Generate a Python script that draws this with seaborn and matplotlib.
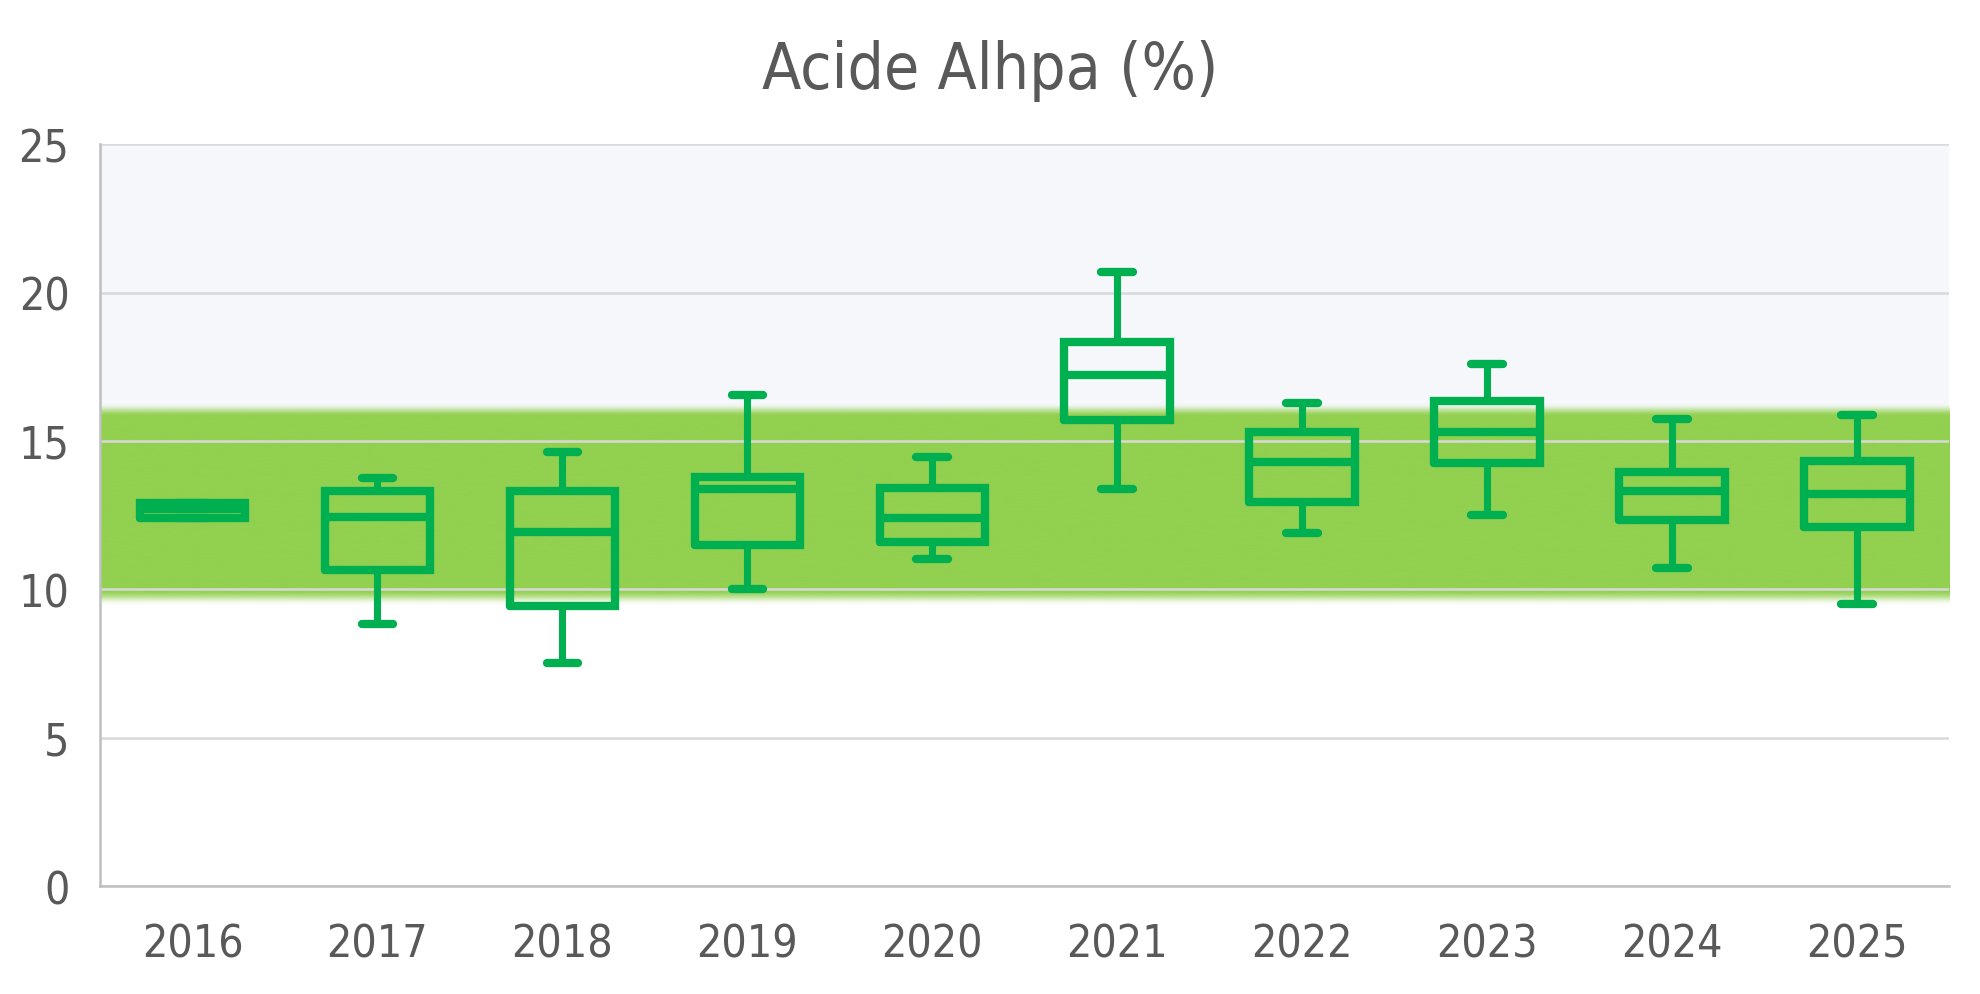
import matplotlib
matplotlib.use("Agg")
import matplotlib.pyplot as plt
from matplotlib.colors import to_rgb
import numpy as np
import pandas as pd
import seaborn as sns

# values (min, q1, median, q3, max per year)
YEARS = ["2016", "2017", "2018", "2019", "2020",
         "2021", "2022", "2023", "2024", "2025"]
LOWS = [12.40, 8.83, 7.52, 10.00, 11.01, 13.38, 11.89, 12.50, 10.72, 9.51]
Q1S = [12.40, 10.66, 9.45, 11.50, 11.59, 15.72, 12.93, 14.27, 12.32, 12.10]
MEDIANS = [12.70, 12.44, 11.93, 13.38, 12.40, 17.21, 14.30, 15.31, 13.32, 13.22]
Q3S = [12.92, 13.31, 13.31, 13.78, 13.43, 18.32, 15.30, 16.36, 13.95, 14.33]
HIGHS = [12.92, 13.75, 14.63, 16.55, 14.45, 20.71, 16.27, 17.59, 15.75, 15.87]

TITLE = "Acide Alhpa (%)"
Y_TICKS = [0, 5, 10, 15, 20, 25]
TARGET_LOW, TARGET_HIGH = 10, 16

GREEN = "#00B050"
BAND_GREEN = "#92D050"
TOP_SHADE = "#F5F7FA"
TEXT = "#595959"
GRID = "#D9D9D9"
AXIS = "#BFBFBF"

rows = []
for year, lo, q1, med, q3, hi in zip(YEARS, LOWS, Q1S, MEDIANS, Q3S, HIGHS):
    for v in (lo, q1, med, q3, hi):
        rows.append({"year": year, "alpha": v})
df = pd.DataFrame(rows)

sns.set_theme(style="white")
plt.rcParams["font.family"] = ["DejaVu Sans"]
plt.rcParams["font.stretch"] = "condensed"

fig = plt.figure(figsize=(19.81, 9.95), dpi=100)
ax = fig.add_axes([0.0505, 0.1085, 0.9335, 0.7455])

LW = 6.0
sns.boxplot(data=df, x="year", y="alpha", order=YEARS, ax=ax,
            fill=False, color=GREEN, width=0.57, linewidth=LW,
            whis=(0, 100), showfliers=False, capwidths=0.17,
            boxprops={"linewidth": LW, "solid_joinstyle": "miter"},
            medianprops={"linewidth": LW},
            whiskerprops={"linewidth": LW * 0.85},
            capprops={"linewidth": LW, "solid_capstyle": "round"},
            zorder=3)

# shaded region above the target band
ax.axhspan(TARGET_HIGH, 25, color=TOP_SHADE, zorder=0.2, lw=0)

# soft-edged target band
ys = np.linspace(TARGET_LOW - 0.8, TARGET_HIGH + 0.8, 600)


def smooth(t):
    t = np.clip(t, 0, 1)
    return t * t * (3 - 2 * t)


a = (smooth((ys - (TARGET_LOW - 0.55)) / 0.5)
     * smooth(((TARGET_HIGH + 0.25) - ys) / 0.42))
img = np.zeros((len(ys), 1, 4))
img[..., :3] = to_rgb(BAND_GREEN)
img[:, 0, 3] = a
ax.imshow(img, origin="lower", aspect="auto", interpolation="bilinear",
          extent=(-0.5, 9.5, ys[0], ys[-1]), zorder=0.3)

ax.set_xlim(-0.5, 9.5)
ax.set_ylim(0, 25)
ax.set_yticks(Y_TICKS)
ax.set_xlabel("")
ax.set_ylabel("")

ax.set_axisbelow(True)
ax.yaxis.grid(True, color=GRID, linewidth=1.8)
ax.xaxis.grid(False)
ax.set_facecolor("white")

for side in ("top", "right"):
    ax.spines[side].set_visible(False)
for side in ("left", "bottom"):
    ax.spines[side].set_color(AXIS)
    ax.spines[side].set_linewidth(1.8)
    ax.spines[side].set_zorder(2)

ax.tick_params(axis="y", length=0, labelsize=32, labelcolor=TEXT, pad=22)
ax.tick_params(axis="x", length=0, labelsize=32, labelcolor=TEXT, pad=26)

fig.text(0.5, 1 - 89 / 995, TITLE, ha="center", va="baseline",
         fontsize=46, color=TEXT)

fig.savefig("out.png", dpi=100)
plt.close(fig)
print("saved out.png")
